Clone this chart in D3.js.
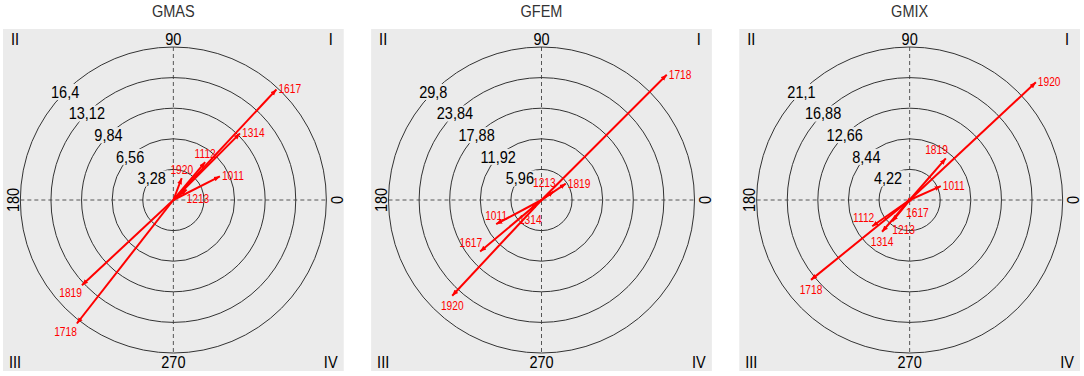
<!DOCTYPE html>
<html>
<head>
<meta charset="utf-8">
<script src="https://cdn.jsdelivr.net/npm/d3@7"></script>
<style>
  body { margin: 0; background: #fff; }
  svg { display: block; }
</style>
</head>
<body>
<svg id="chart" width="1084" height="376"></svg>
<script>
// circular plots of yearly vectors, one panel per group

const FONT = "'Liberation Sans', Arial, sans-serif";
const NARROW = 0.88;     // horizontal squeeze to mimic the condensed face
const NARROW_RED = 0.85;

// data
const seasons = ["1011", "1112", "1213", "1314", "1617", "1718", "1819", "1920"];

const gmasMag = [5.6, 5.3, 1.8, 10.1, 16.2, 16.8, 13.4, 2.5];
const gmasAng = [27, 50, 38, 45, 47, 232, 223, 69];
const gmasRings = [3.28, 6.56, 9.84, 13.12, 16.4];

const gfemMag = [10.0, null, 2.9, 2.9, 15.6, 34.5, 5.7, 25.5];
const gfemAng = [208, null, 35, 221, 220, 45, 34, 227];
const gfemRings = [5.96, 11.92, 17.88, 23.84, 29.8];

const gmixMag = [4.7, 6.3, 3.8, 5.8, 0.7, 17.5, 7.6, 23.8];
const gmixAng = [24, 215, 231, 229, 225, 219, 49, 43];
const gmixRings = [4.22, 8.44, 12.66, 16.88, 21.1];

const panelTitles = ["GMAS", "GFEM", "GMIX"];
const axisLabels = ["0", "90", "180", "270"];
const quadrantLabels = ["I", "II", "III", "IV"];

// where each label sits relative to its arrow tip (layout only)
const labelSide = [
  { "1011": "r", "1112": "t", "1213": "br", "1314": "r", "1617": "r", "1718": "bl", "1819": "bl", "1920": "t" },
  { "1011": "t", "1213": "tl", "1314": "b", "1617": "tl", "1718": "r", "1819": "r", "1920": "b" },
  { "1011": "r", "1112": "tl", "1213": "br", "1314": "b", "1617": "br", "1718": "b", "1819": "tl", "1920": "r" }
];

const panels = [
  { title: panelTitles[0], mag: gmasMag, ang: gmasAng, rings: gmasRings },
  { title: panelTitles[1], mag: gfemMag, ang: gfemAng, rings: gfemRings },
  { title: panelTitles[2], mag: gmixMag, ang: gmixAng, rings: gmixRings }
];

const PANEL_H = 342;
const PANEL_TOP = 29;
const OUTER_R = 153;

const commaLocale = d3.formatLocale({ decimal: ",", thousands: ".", grouping: [3], currency: ["", ""] });
const fmt = commaLocale.format(".4~r");

const svg = d3.select("#chart");

const px = d3.scaleBand()
  .domain(d3.range(panels.length))
  .range([3, 1080])
  .paddingInner(0.0745);

svg.append("defs").append("marker")
  .attr("id", "head")
  .attr("markerUnits", "userSpaceOnUse")
  .attr("viewBox", "0 -4 8 8")
  .attr("refX", 7)
  .attr("refY", 0)
  .attr("markerWidth", 7)
  .attr("markerHeight", 7)
  .attr("orient", "auto")
  .append("path")
  .attr("d", "M0,-2.8L7,0L0,2.8Z")
  .style("fill", "#ff0000");

function translate(x, y) {
  return "translate(" + x + "," + y + ")";
}

function squeeze(s) {
  return " scale(" + s + ",1)";
}

function blackText(sel) {
  return sel
    .style("fill", "#000")
    .style("font-family", FONT)
    .style("font-size", "16.5px");
}

panels.forEach(function (p, i) {
  const g = svg.append("g").attr("transform", translate(px(i), PANEL_TOP));
  const w = px.bandwidth();
  const cx = w / 2;
  const cy = PANEL_H / 2;

  // title
  g.append("text")
    .attr("transform", translate(cx, -12) + squeeze(NARROW))
    .attr("text-anchor", "middle")
    .text(p.title)
    .style("fill", "#333")
    .style("font-family", FONT)
    .style("font-size", "16.5px");

  g.append("rect")
    .attr("width", w).attr("height", PANEL_H)
    .style("fill", "#ebebeb");

  const r = d3.scaleLinear()
    .domain([0, d3.max(p.rings)])
    .range([0, OUTER_R]);

  const plot = g.append("g").attr("transform", translate(cx, cy));

  // dashed axes
  plot.append("line")
    .attr("x1", -OUTER_R).attr("x2", OUTER_R)
    .attr("y1", 0).attr("y2", 0)
    .style("stroke", "#555").style("stroke-width", 1)
    .style("stroke-dasharray", "4,3");
  plot.append("line")
    .attr("y1", -OUTER_R).attr("y2", OUTER_R)
    .attr("x1", 0).attr("x2", 0)
    .style("stroke", "#555").style("stroke-width", 1)
    .style("stroke-dasharray", "4,3");

  // rings
  plot.selectAll(".ring")
    .data(p.rings)
    .enter().append("circle")
    .attr("class", "ring")
    .attr("r", d => r(d))
    .style("fill", "none")
    .style("stroke", "#333")
    .style("stroke-width", 1);

  // ring labels at 135 degrees, knocking out the circle behind them
  const ringLab = plot.selectAll(".ringlab")
    .data(p.rings)
    .enter().append("g")
    .attr("class", "ringlab")
    .attr("transform", d => translate(r(d) * Math.cos(3 * Math.PI / 4), -r(d) * Math.sin(3 * Math.PI / 4)) + squeeze(NARROW));
  ringLab.each(function (d) {
    const lg = d3.select(this);
    const t = lg.append("text")
      .attr("text-anchor", "middle")
      .attr("dy", "0.36em")
      .text(fmt(d))
      .call(blackText);
    const bb = t.node().getBBox();
    lg.insert("rect", "text")
      .attr("x", bb.x - 3).attr("y", bb.y + 1)
      .attr("width", bb.width + 6).attr("height", bb.height - 2)
      .style("fill", "#ebebeb");
  });

  // axis degree labels
  g.append("text").attr("transform", translate(cx, 16) + squeeze(NARROW)).attr("text-anchor", "middle")
    .text(axisLabels[1]).call(blackText);
  g.append("text").attr("transform", translate(cx, PANEL_H - 3) + squeeze(NARROW)).attr("text-anchor", "middle")
    .text(axisLabels[3]).call(blackText);
  g.append("text").attr("transform", translate(16, cy) + "rotate(-90)" + squeeze(NARROW)).attr("text-anchor", "middle")
    .text(axisLabels[2]).call(blackText);
  g.append("text").attr("transform", translate(w - 1, cy) + "rotate(-90)" + squeeze(NARROW)).attr("text-anchor", "middle")
    .text(axisLabels[0]).call(blackText);

  // quadrant numerals
  const q = [[w - 13, 16], [12, 16], [12, PANEL_H - 3], [w - 13, PANEL_H - 3]];
  quadrantLabels.forEach(function (lab, k) {
    g.append("text").attr("transform", translate(q[k][0], q[k][1]) + squeeze(NARROW)).attr("text-anchor", "middle")
      .text(lab).call(blackText);
  });

  // vectors
  const entries = seasons.map((s, k) => ({ name: s, mag: p.mag[k], ang: p.ang[k] }))
    .filter(d => d.mag != null);
  entries.forEach(function (d) {
    const a = d.ang * Math.PI / 180;
    d.x = r(d.mag) * Math.cos(a);
    d.y = -r(d.mag) * Math.sin(a);
  });

  plot.selectAll(".vec")
    .data(entries)
    .enter().append("line")
    .attr("class", "vec")
    .attr("x1", 0).attr("y1", 0)
    .attr("x2", d => d.x).attr("y2", d => d.y)
    .attr("marker-end", "url(#head)")
    .style("stroke", "#ff0000")
    .style("stroke-width", 2);

  const sides = labelSide[i];
  function labX(d) {
    const s = sides[d.name];
    if (s === "r" || s === "tl") return d.x + 2;
    return d.x;
  }
  function labY(d) {
    const s = sides[d.name];
    if (s === "r") return d.y + 4;
    if (s === "t" || s === "tl") return d.y - 4;
    if (s === "b") return d.y + 14;
    if (s === "br") return d.y + 13;
    if (s === "bl") return d.y + 12;
    return d.y;
  }
  plot.selectAll(".veclab")
    .data(entries)
    .enter().append("text")
    .attr("class", "veclab")
    .attr("transform", d => translate(labX(d), labY(d)) + squeeze(NARROW_RED))
    .attr("text-anchor", function (d) {
      const s = sides[d.name];
      if (s === "r" || s === "br") return "start";
      if (s === "tl" || s === "bl") return "end";
      return "middle";
    })
    .text(d => d.name)
    .style("fill", "#ff0000")
    .style("font-family", FONT)
    .style("font-size", "12px");
});
</script>
</body>
</html>
